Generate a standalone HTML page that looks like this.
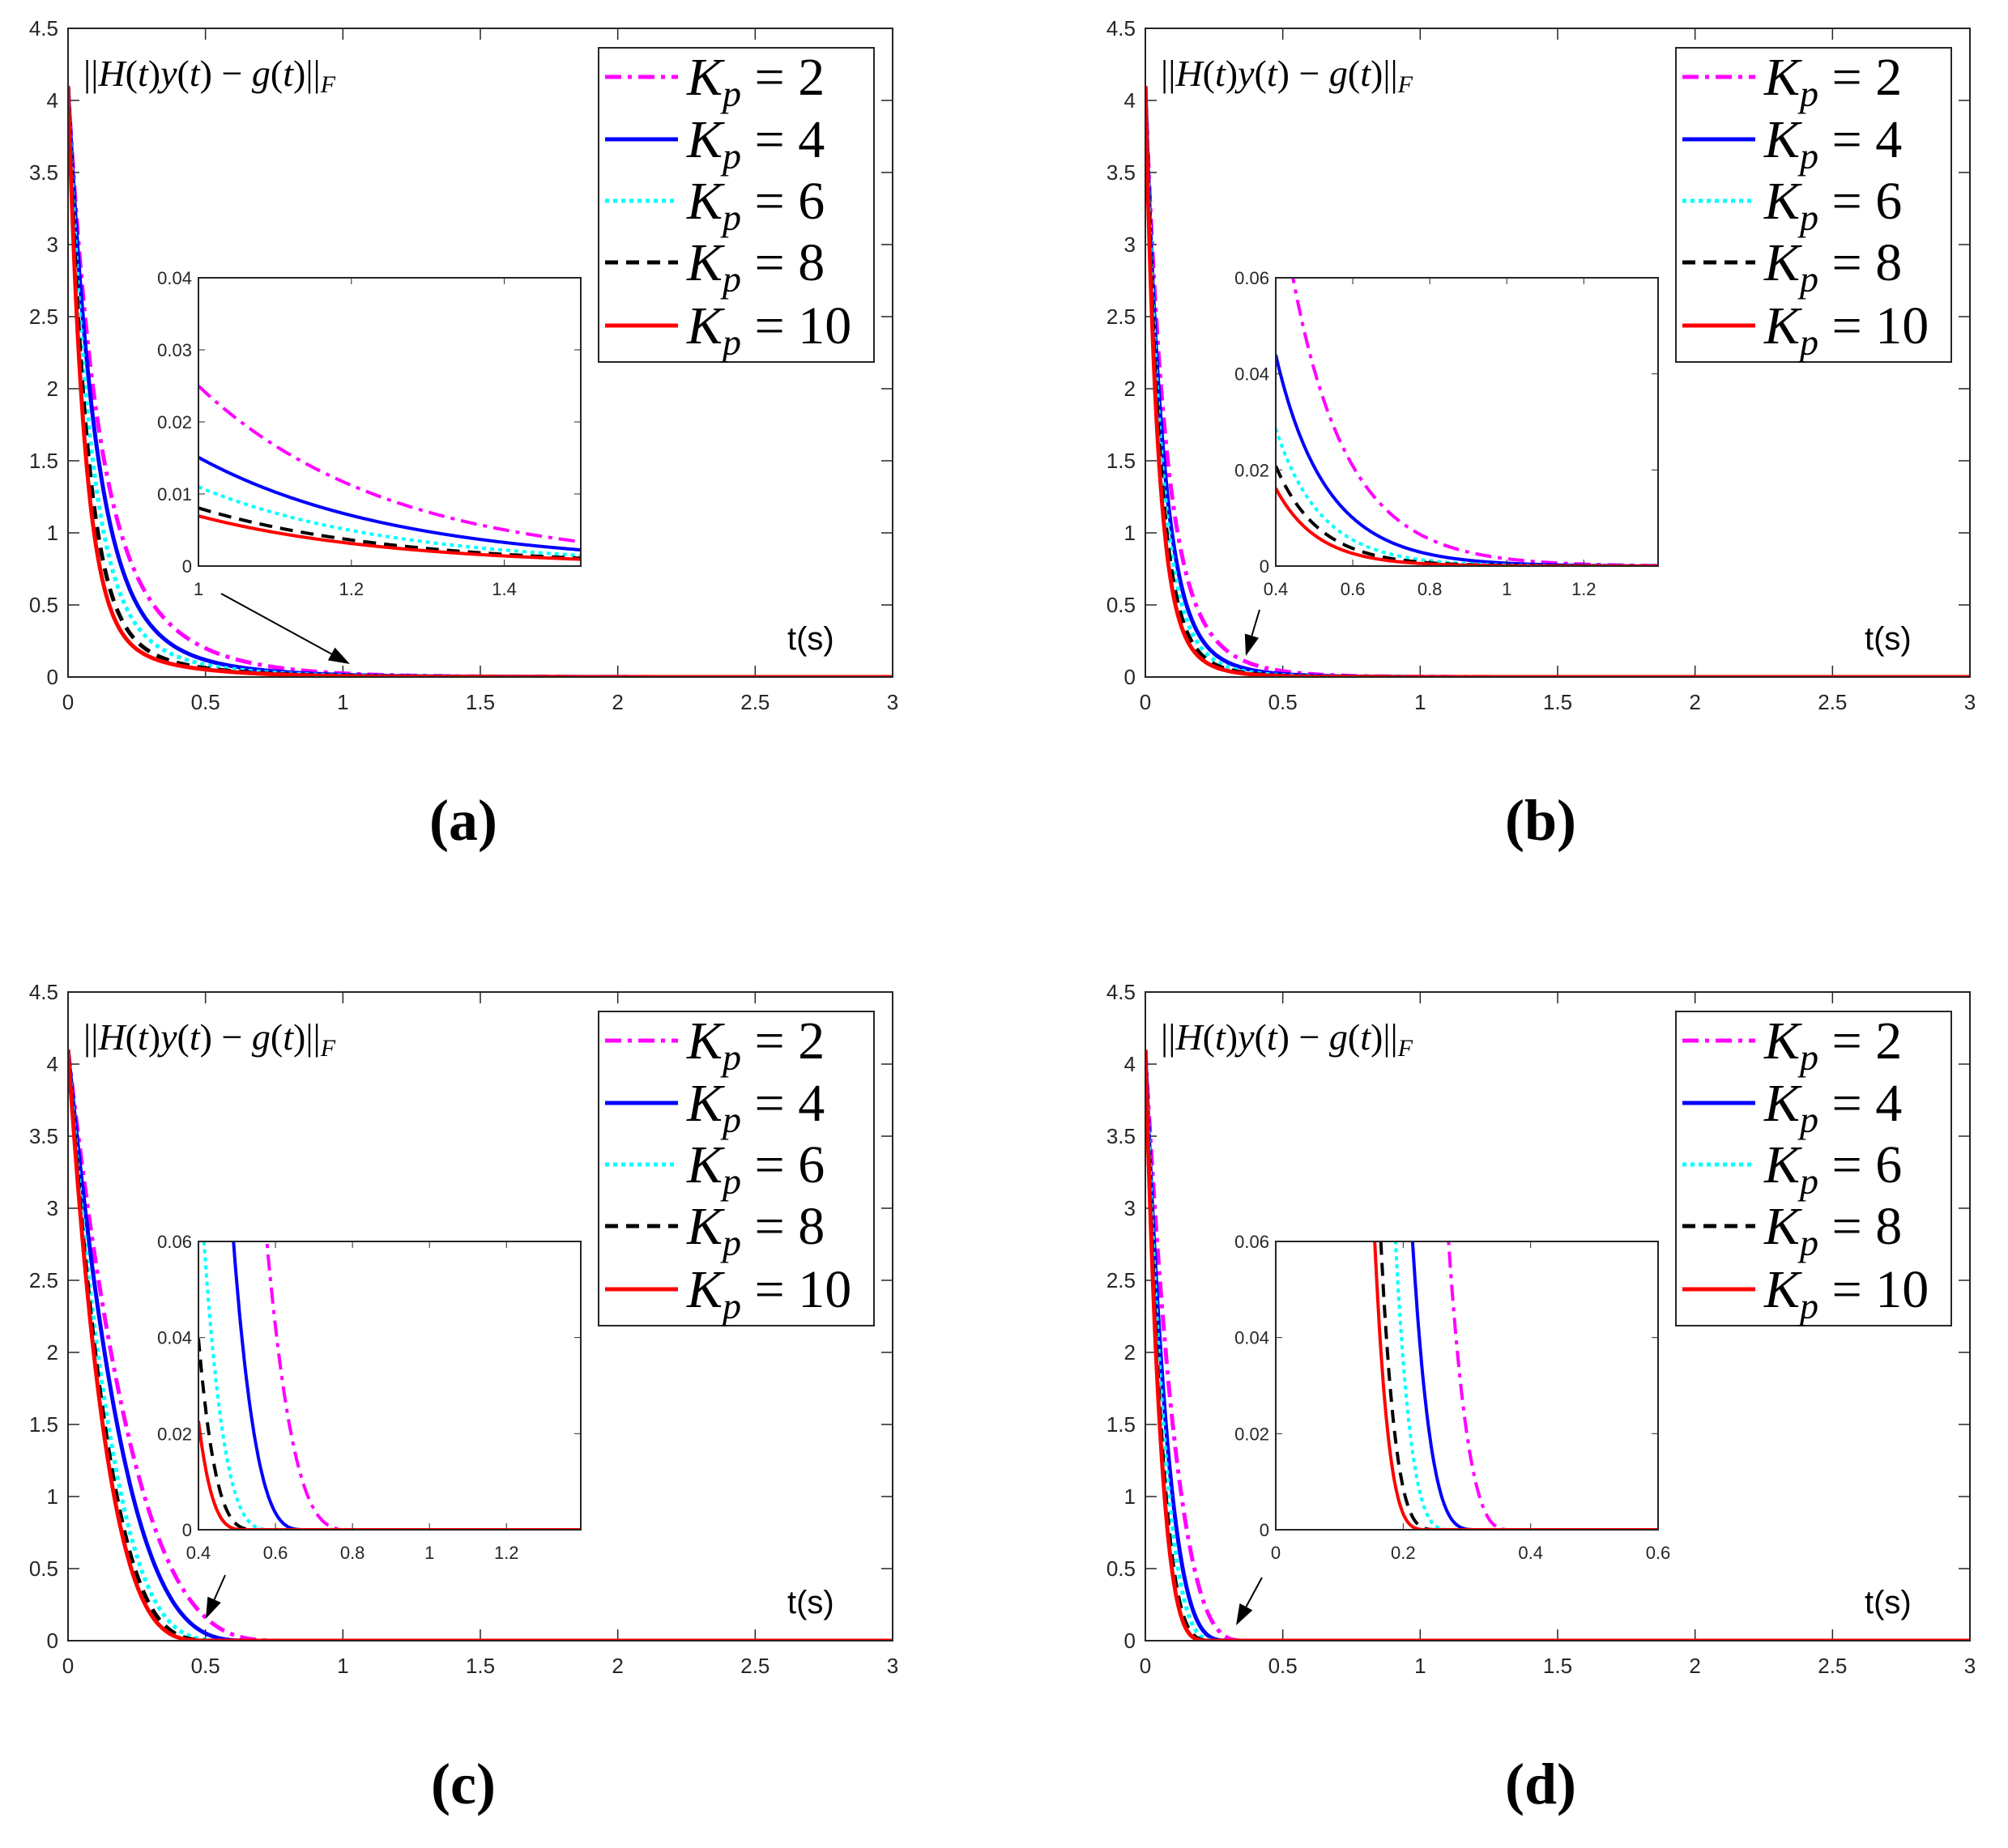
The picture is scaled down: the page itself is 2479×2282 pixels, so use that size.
<!DOCTYPE html>
<html><head><meta charset="utf-8"><style>
html,body{margin:0;padding:0;background:#fff}
svg{display:block}
</style></head><body>
<svg id="s" xmlns="http://www.w3.org/2000/svg" width="2479" height="2282" viewBox="0 0 2479 2282"></svg>
<script>
const S=document.getElementById('s');
let out='';
const L=84,R=1102,T=35,B=836;
const IL=245,IR=717,IT=343,IB=699;
const DX=1330,DY=1190;
const panels=[
 {dx:0,dy:0,cap:'(a)',type:'a',ix:[1,1.5],iy:[0,0.04],ixt:[1,1.2,1.4],iyt:[0,0.01,0.02,0.03,0.04],arrow:[273,733,432,820]},
 {dx:DX,dy:0,cap:'(b)',type:'b',ix:[0.4,1.393],iy:[0,0.06],ixt:[0.4,0.6,0.8,1,1.2],iyt:[0,0.02,0.04,0.06],arrow:[1562-1337,753,1545-1337,810]},
 {dx:0,dy:DY,cap:'(c)',type:'c',ix:[0.4,1.393],iy:[0,0.06],ixt:[0.4,0.6,0.8,1,1.2],iyt:[0,0.02,0.04,0.06],arrow:[278,1948-1193,254,2002-1193]},
 {dx:DX,dy:DY,cap:'(d)',type:'d',ix:[0,0.6],iy:[0,0.06],ixt:[0,0.2,0.4,0.6],iyt:[0,0.02,0.04,0.06],arrow:[1565-1337,1951-1193,1533-1337,2010-1193]}
];
const cols=['#ff00ff','#0000ff','#00ffff','#000000','#ff0000'];
const dash=['20,8,5,8','','5,5','16,10',''];
const fa={slowB:[1.36,0.67,0.6,0.44,0.38],slowR:[4,3.8,4,4,4],fast:[10.4,10.5,13,15,17]};
const fb={slowB:[1.01,0.66,0.66,0.6,0.58],slowR:[6.5,7,8,8.5,9],fast:[15,17,19,21,23]};
const fc={T:[0.8,0.68,0.6,0.56,0.53],p:[3.3,3.3,3.6,3.7,3.7]};
const fd={T:[0.37,0.32,0.28,0.26,0.245],p:[3.2,3.8,3.8,4.2,4.2]};
function f(type,i,t){
 if(type=='a'||type=='b'){const q=type=='a'?fa:fb;const A=4.1-q.slowB[i];return A*Math.exp(-q.fast[i]*t)+q.slowB[i]*Math.exp(-q.slowR[i]*t);}
 const q=type=='c'?fc:fd; if(t>=q.T[i])return 0; return 4.1*Math.pow(1-t/q.T[i],q.p[i]);
}
function path(type,i,x0,x1,y0,y1,px0,px1,py0,py1){
 let d='';const N=600;
 for(let k=0;k<=N;k++){const t=x0+(x1-x0)*k/N;let v=f(type,i,t);
  const X=px0+(t-x0)/(x1-x0)*(px1-px0);const Y=py1-(v-y0)/(y1-y0)*(py1-py0);
  d+=(k?'L':'M')+X.toFixed(1)+' '+Y.toFixed(1);}
 return d;
}
panels.forEach((p,pi)=>{
 out+=`<g transform="translate(${p.dx},${p.dy})">`;
 out+=`<clipPath id="cm${pi}"><rect x="${L}" y="${T}" width="${R-L}" height="${B-T}"/></clipPath>`;
 out+=`<clipPath id="ci${pi}"><rect x="${IL}" y="${IT}" width="${IR-IL}" height="${IB-IT}"/></clipPath>`;
 for(let k=0;k<=9;k++){const y=B-(B-T)*k/9;const v=(k*0.5);
  out+=`<line x1="${L}" y1="${y}" x2="${L+14}" y2="${y}" stroke="#262626" stroke-width="1.5"/><line x1="${R}" y1="${y}" x2="${R-14}" y2="${y}" stroke="#262626" stroke-width="1.5"/>`;
  out+=`<text x="${L-12}" y="${y+9}" text-anchor="end" font-family="Liberation Sans,sans-serif" font-size="26" fill="#262626">${v}</text>`;}
 for(let k=0;k<=6;k++){const x=L+(R-L)*k/6;const v=k*0.5;
  out+=`<line x1="${x}" y1="${B}" x2="${x}" y2="${B-14}" stroke="#262626" stroke-width="1.5"/><line x1="${x}" y1="${T}" x2="${x}" y2="${T+14}" stroke="#262626" stroke-width="1.5"/>`;
  out+=`<text x="${x}" y="${B+40}" text-anchor="middle" font-family="Liberation Sans,sans-serif" font-size="26" fill="#262626">${v}</text>`;}
 out+=`<g clip-path="url(#cm${pi})" fill="none">`;
 for(let i=0;i<5;i++){out+=`<path d="${path(p.type,i,0,3,0,4.5,L,R,T,B)}" stroke="${cols[i]}" stroke-width="5" ${dash[i]?'stroke-dasharray="'+dash[i]+'"':''}/>`;}
 out+=`</g>`;
 out+=`<rect x="${L}" y="${T}" width="${R-L}" height="${B-T}" fill="none" stroke="#262626" stroke-width="2"/>`;
 out+=`<text x="103" y="106" font-family="Liberation Serif,serif" font-size="46" fill="#000">||<tspan font-style="italic">H</tspan>(<tspan font-style="italic">t</tspan>)<tspan font-style="italic">y</tspan>(<tspan font-style="italic">t</tspan>) − <tspan font-style="italic">g</tspan>(<tspan font-style="italic">t</tspan>)||<tspan font-style="italic" font-size="30" dy="8">F</tspan></text>`;
 out+=`<text x="972" y="802" font-family="Liberation Sans,sans-serif" font-size="40" fill="#000">t(s)</text>`;
 out+=`<rect x="739" y="59" width="340" height="388" fill="#fff" stroke="#262626" stroke-width="2"/>`;
 const ly=[95,172,248,324,402],lv=[2,4,6,8,10];
 for(let i=0;i<5;i++){
  out+=`<line x1="747" y1="${ly[i]}" x2="837" y2="${ly[i]}" stroke="${cols[i]}" stroke-width="5" ${dash[i]?'stroke-dasharray="'+dash[i]+'"':''}/>`;
  out+=`<text x="848" y="${ly[i]+22}" font-family="Liberation Serif,serif" font-size="66" fill="#000"><tspan font-style="italic">K</tspan><tspan font-style="italic" font-size="46" dy="14">p</tspan><tspan dy="-14"> = ${lv[i]}</tspan></text>`;}
 out+=`<rect x="${IL}" y="${IT}" width="${IR-IL}" height="${IB-IT}" fill="#fff"/>`;
 out+=`<g clip-path="url(#ci${pi})" fill="none">`;
 for(let i=0;i<5;i++){out+=`<path d="${path(p.type,i,p.ix[0],p.ix[1],p.iy[0],p.iy[1],IL,IR,IT,IB)}" stroke="${cols[i]}" stroke-width="4" ${dash[i]?'stroke-dasharray="'+dash[i]+'"':''}/>`;}
 out+=`</g>`;
 p.iyt.forEach(v=>{const y=IB-(v-p.iy[0])/(p.iy[1]-p.iy[0])*(IB-IT);
  out+=`<line x1="${IL}" y1="${y}" x2="${IL+8}" y2="${y}" stroke="#262626"/><line x1="${IR}" y1="${y}" x2="${IR-8}" y2="${y}" stroke="#262626"/>`;
  out+=`<text x="${IL-8}" y="${y+8}" text-anchor="end" font-family="Liberation Sans,sans-serif" font-size="22" fill="#262626">${v}</text>`;});
 p.ixt.forEach(v=>{const x=IL+(v-p.ix[0])/(p.ix[1]-p.ix[0])*(IR-IL);
  out+=`<line x1="${x}" y1="${IB}" x2="${x}" y2="${IB-8}" stroke="#262626"/><line x1="${x}" y1="${IT}" x2="${x}" y2="${IT+8}" stroke="#262626"/>`;
  out+=`<text x="${x}" y="${IB+36}" text-anchor="middle" font-family="Liberation Sans,sans-serif" font-size="22" fill="#262626">${v}</text>`;});
 out+=`<rect x="${IL}" y="${IT}" width="${IR-IL}" height="${IB-IT}" fill="none" stroke="#262626" stroke-width="2"/>`;
 const [x1,y1,x2,y2]=p.arrow;const ang=Math.atan2(y2-y1,x2-x1);const ah=26,aw=9;
 const bx=x2-ah*Math.cos(ang),by=y2-ah*Math.sin(ang);
 out+=`<line x1="${x1}" y1="${y1}" x2="${bx}" y2="${by}" stroke="#000" stroke-width="2"/>`;
 out+=`<polygon points="${x2},${y2} ${bx-aw*Math.sin(ang)},${by+aw*Math.cos(ang)} ${bx+aw*Math.sin(ang)},${by-aw*Math.cos(ang)}" fill="#000"/>`;
 out+=`<text x="572" y="1037" text-anchor="middle" font-family="Liberation Serif,serif" font-weight="bold" font-size="72" fill="#000">${p.cap}</text>`;
 out+=`</g>`;
});
S.innerHTML=out;
</script>
</body></html>
